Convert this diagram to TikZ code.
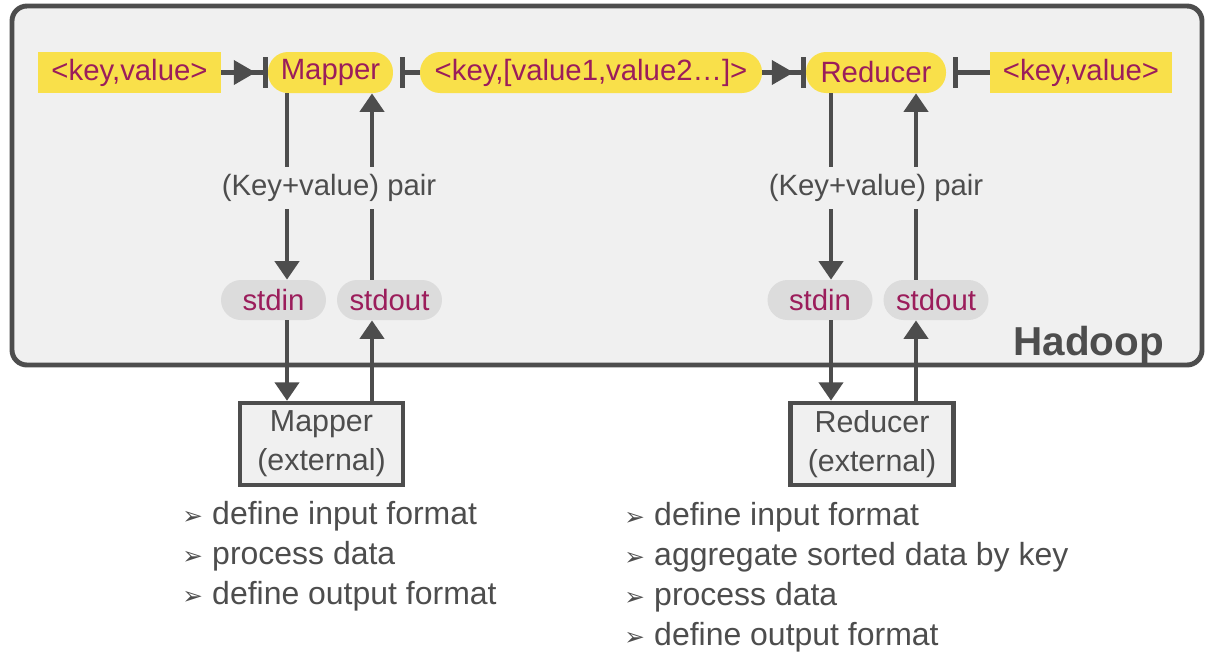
\documentclass[tikz,border=0pt]{standalone}
\usepackage{fontspec}
\setmainfont{Liberation Sans}
\newfontfamily\symfont{DejaVu Sans}
\usetikzlibrary{arrows.meta}

\definecolor{hdgray}{HTML}{4D4D4D}
\definecolor{hdpanel}{HTML}{F0F0F0}
\definecolor{hdyellow}{HTML}{F9E04A}
\definecolor{hdtext}{HTML}{9B1D5B}
\definecolor{hdpill}{HTML}{DCDCDC}

\newcommand{\itm}{\makebox[17pt][l]{\symfont\fontsize{14}{14}\selectfont ➢}}

\begin{document}
\begin{tikzpicture}[
    x=0.02cm, y=-0.02cm,
    every node/.style={font=\fontsize{16.7}{20}\selectfont, text=hdgray},
    kvbox/.style={fill=hdyellow, text=hdtext, minimum height=0.82cm, inner sep=0pt},
    kvpill/.style={kvbox, rounded corners=0.4cm},
    stdio/.style={fill=hdpill, text=hdtext, minimum width=2.1cm, minimum height=0.8cm, inner sep=0pt, rounded corners=0.4cm},
    extern/.style={draw=hdgray, line width=2.5pt, fill=hdpanel, minimum width=3.26cm, minimum height=1.64cm,
        align=center, inner sep=0pt, font=\fontsize{17.3}{22}\selectfont},
    pairlabel/.style={fill=hdpanel, inner xsep=2pt, inner ysep=4pt},
    bullets/.style={align=left, anchor=west, inner xsep=0pt, font=\fontsize{18.2}{22.7}\selectfont},
    flow/.style={draw=hdgray, line width=2.8pt},
    arrow/.style={flow, -{Triangle[width=13.5pt, length=10.5pt]}},
    feed/.style={flow, -{Triangle[width=13.5pt, length=12.5pt, sep=4pt]Bar[width=17.6pt]}},
    emit/.style={flow, {Bar[width=17.6pt]}-, shorten <=4pt}
    ]

% Hadoop frame
\draw[draw=hdgray, fill=hdpanel, line width=2.8pt, rounded corners=0.3cm] (12,6) rectangle (1202,365);
\node[anchor=base east, font=\bfseries\fontsize{23}{23}\selectfont] (hadoop) at (1170,355) {Hadoop};

% Top row
\node[kvbox, minimum width=3.66cm] (kv in) at (129.5,72.5) {<key,value>};
\node[kvpill, minimum width=2.5cm] (mapper) at (330.5,72.5) {Mapper};
\node[kvpill, minimum width=6.84cm] (kv list) at (591,72.5) {<key,[value1,value2…]>};
\node[kvpill, minimum width=2.8cm] (reducer) at (876,72.5) {Reducer};
\node[kvbox, minimum width=3.64cm] (kv out) at (1081,72.5) {<key,value>};

\draw[feed] (kv in) -- (mapper);
\draw[emit] (mapper) -- (kv list);
\draw[feed] (kv list) -- (reducer);
\draw[emit] (reducer) -- (kv out);

% Streaming pipes
\node[stdio] (map stdin) at (273.5,300) {stdin};
\node[stdio] (map stdout) at (389.5,300) {stdout};
\node[stdio] (red stdin) at (820,300) {stdin};
\node[stdio] (red stdout) at (936,300) {stdout};

\node[extern] (map ext) at (321.5,444) {Mapper\\(external)};
\node[extern] (red ext) at (872,444) {Reducer\\(external)};

\coordinate (map down) at (287,0);
\coordinate (map up) at (372,0);
\coordinate (red down) at (831,0);
\coordinate (red up) at (916,0);

\draw[arrow] (mapper.south -| map down) -- (map stdin.north -| map down);
\draw[arrow] (map stdout.north -| map up) -- (mapper.south -| map up);
\draw[arrow] (map stdin.south -| map down) -- (map ext.north -| map down);
\draw[arrow] (map ext.north -| map up) -- (map stdout.south -| map up);

\draw[arrow] (reducer.south -| red down) -- (red stdin.north -| red down);
\draw[arrow] (red stdout.north -| red up) -- (reducer.south -| red up);
\draw[arrow] (red stdin.south -| red down) -- (red ext.north -| red down);
\draw[arrow] (red ext.north -| red up) -- (red stdout.south -| red up);

\node[pairlabel] (map pair) at (329,188) {(Key+value) pair};
\node[pairlabel] (red pair) at (876,188) {(Key+value) pair};

% What the external programs do
\node[bullets] (map tasks) at (182,556) {\itm define input format\\\itm process data\\\itm define output format};
\node[bullets] (red tasks) at (624,577) {\itm define input format\\\itm aggregate sorted data by key\\\itm process data\\\itm define output format};

\useasboundingbox (0,0) rectangle (1212,652);
\end{tikzpicture}
\end{document}
